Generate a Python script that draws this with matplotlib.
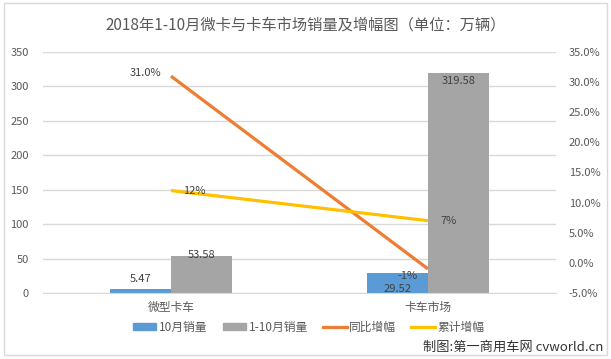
import matplotlib
matplotlib.use("Agg")
import matplotlib.pyplot as plt
import numpy as np
from matplotlib.lines import Line2D
from matplotlib.patches import Patch, Rectangle

plt.rcParams['font.family'] = ['Noto Sans CJK SC', 'DejaVu Sans']
plt.rcParams['axes.unicode_minus'] = False

categories = ['微型卡车', '卡车市场']
oct_sales = [5.47, 29.52]
ytd_sales = [53.58, 319.58]
yoy_growth = [31.0, -1.0]
ytd_growth = [12.0, 7.0]
yoy_labels = ['31.0%', '-1%']
ytd_labels = ['12%', '7%']
left_ticks = [0, 50, 100, 150, 200, 250, 300, 350]
right_ticks = [-5, 0, 5, 10, 15, 20, 25, 30, 35]

txt = '#595959'
blue = '#5B9BD5'
gray = '#A5A5A5'
orange = '#ED7D31'
yellow = '#FFC000'

fig = plt.figure(figsize=(6.11, 3.59), dpi=100)
ax = fig.add_axes([0.0696, 0.184, 0.841, 0.671])
ax2 = ax.twinx()

x = np.arange(len(categories))
w = 0.237
ax.bar(x - w / 2, oct_sales, w, color=blue, zorder=2)
ax.bar(x + w / 2, ytd_sales, w, color=gray, zorder=2)
ax.set_xlim(-0.5, 1.5)
ax.set_ylim(0, 350)
ax.set_yticks(left_ticks)
ax.set_xticks(x)
ax.set_xticklabels(categories)
ax.grid(axis='y', color='#D9D9D9', linewidth=1, zorder=0)
for s in ['top', 'right', 'left']:
    ax.spines[s].set_visible(False)
ax.spines['bottom'].set_color('#D9D9D9')
ax.tick_params(axis='both', length=0, colors=txt, labelsize=8)
ax.tick_params(axis='y', pad=10)
ax.tick_params(axis='x', pad=6, labelsize=8.5)

# bar value labels
ax.text(x[0] - w / 2, oct_sales[0] + 7, '%.2f' % oct_sales[0], ha='center', va='bottom', fontsize=8, color='#404040')
ax.text(x[0] + w / 2, ytd_sales[0] + 1, '%.2f' % ytd_sales[0], ha='center', va='center', fontsize=8, color='#404040')
ax.text(x[1] - w / 2, 6, '%.2f' % oct_sales[1], ha='center', va='center', fontsize=8, color='#404040')
ax.text(x[1] + w / 2, ytd_sales[1] - 12, '%.2f' % ytd_sales[1], ha='center', va='center', fontsize=8, color='#404040')

ax2.plot(x, yoy_growth, color=orange, linewidth=2.3, solid_capstyle='butt', zorder=3)
ax2.plot(x, ytd_growth, color=yellow, linewidth=2.3, solid_capstyle='butt', zorder=3)
ax2.set_ylim(-5, 35)
ax2.set_yticks(right_ticks)
ax2.set_yticklabels(['%.1f%%' % t for t in right_ticks])
for s in ax2.spines.values():
    s.set_visible(False)
ax2.tick_params(axis='y', length=0, colors=txt, labelsize=8, pad=9)

ax2.annotate(yoy_labels[0], (x[0], yoy_growth[0]), xytext=(-7, 2), textcoords='offset points',
             ha='right', va='center', fontsize=8, color='#404040')
ax2.annotate(yoy_labels[1], (x[1], yoy_growth[1]), xytext=(-15, -5), textcoords='offset points',
             ha='center', va='center', fontsize=8, color='#404040')
ax2.annotate(ytd_labels[0], (x[0], ytd_growth[0]), xytext=(9, 0), textcoords='offset points',
             ha='left', va='center', fontsize=8, color='#404040')
ax2.annotate(ytd_labels[1], (x[1], ytd_growth[1]), xytext=(9, 0), textcoords='offset points',
             ha='left', va='center', fontsize=8, color='#404040')

fig.text(0.5, 0.93, '2018年1-10月微卡与卡车市场销量及增幅图（单位：万辆）', ha='center', va='center',
         fontsize=11, color=txt)

handles = [Patch(color=blue), Patch(color=gray),
           Line2D([], [], color=orange, linewidth=2.3),
           Line2D([], [], color=yellow, linewidth=2.3)]
labels = ['10月销量', '1-10月销量', '同比增幅', '累计增幅']
fig.legend(handles, labels, loc='center', bbox_to_anchor=(0.505, 0.088), ncol=4, frameon=False,
           fontsize=8.5, labelcolor=txt, handlelength=2.0, handleheight=0.5, handletextpad=0.2,
           columnspacing=1.3)

fig.text(0.988, 0.033, '制图:第一商用车网 cvworld.cn', ha='right', va='center', fontsize=9.5, color='#333333')

fig.patches.append(Rectangle((0.006, 0.012), 0.988, 0.98, transform=fig.transFigure, fill=False,
                             edgecolor='#D9D9D9', linewidth=1))

fig.savefig('out.png', dpi=100)
